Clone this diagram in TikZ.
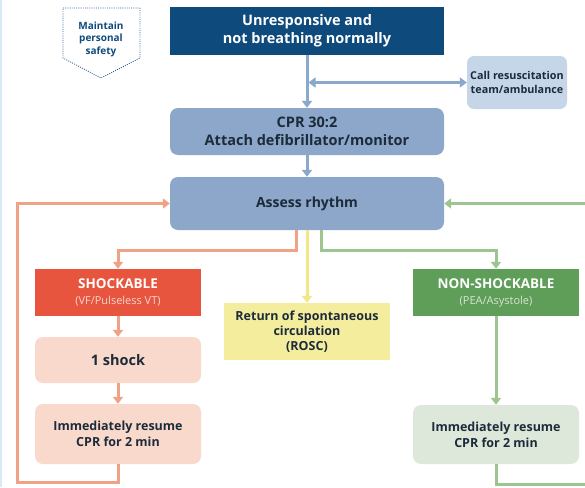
\documentclass[tikz,border=0pt]{standalone}
\usepackage{fontspec}
\setmainfont{Open Sans}
\usetikzlibrary{arrows.meta}
\definecolor{navy}{HTML}{0E4A7C}
\definecolor{steel}{HTML}{8AA8CB}
\definecolor{boxblue}{HTML}{8CA7C9}
\definecolor{callblue}{HTML}{C5D6E8}
\definecolor{orangeline}{HTML}{F0A287}
\definecolor{shockred}{HTML}{E8553F}
\definecolor{salmon}{HTML}{F9D9CB}
\definecolor{yellowline}{HTML}{F2E685}
\definecolor{roscfill}{HTML}{F4ED9E}
\definecolor{greenline}{HTML}{9CC58F}
\definecolor{nsgreen}{HTML}{5E9E58}
\definecolor{palegreen}{HTML}{DEE8DA}
\definecolor{darktext}{HTML}{1C2B3A}
\definecolor{safetyblue}{HTML}{2D5B8A}
\definecolor{edgeblue}{HTML}{D8EAF6}
\tikzset{
  boxbase/.style={inner sep=0pt, align=center, font=\bfseries, text=darktext},
  conn/.style={line width=3pt, -{Triangle[width=10pt,length=7pt]}},
  plain/.style={line width=3pt},
}
\begin{document}
\begin{tikzpicture}[x=1pt,y=-1pt]
\clip (0,0) rectangle (585,487);
\fill[white] (0,0) rectangle (585,487);
\draw[edgeblue, line width=2pt] (1,0) -- (1,487);

% safety sign
\draw[safetyblue, line width=0.9pt, dash pattern=on 0.9pt off 1.3pt] (63,8) -- (140,8) -- (140,58) -- (101,78) -- (63,58) -- cycle;
\node[boxbase, text=navy, font=\bfseries\fontsize{10}{12.5}\selectfont] (safety) at (101,39) {Maintain\\personal\\safety};

% nodes
\node[boxbase, fill=navy, text=white, minimum width=274pt, minimum height=48pt,
      font=\bfseries\fontsize{14.5}{18}\selectfont] (top) at (307,31) {Unresponsive and\\not breathing normally};
\node[boxbase, fill=callblue, rounded corners=7pt, minimum width=100pt, minimum height=53pt,
      font=\bfseries\fontsize{10.8}{14}\selectfont] (call) at (517,82.5) {Call resuscitation\\team/ambulance};
\node[boxbase, fill=boxblue, rounded corners=8pt, minimum width=274pt, minimum height=47pt,
      font=\bfseries\fontsize{14.5}{18}\selectfont] (cpr) at (307,131.5) {CPR 30:2\\Attach defibrillator/monitor};
\node[boxbase, fill=boxblue, rounded corners=8pt, minimum width=274pt, minimum height=53pt,
      font=\bfseries\fontsize{14}{17}\selectfont] (assess) at (307,203.5) {Assess rhythm};
\node[boxbase, fill=shockred, text=white, minimum width=166pt, minimum height=47pt,
      font=\bfseries\fontsize{13.5}{17}\selectfont] (shock) at (118,292.5) {SHOCKABLE\\[-1pt]{\mdseries\fontsize{11}{13}\selectfont\color{white!75!shockred}(VF/Pulseless VT)}};
\node[boxbase, fill=salmon, rounded corners=8pt, minimum width=166pt, minimum height=46pt,
      font=\bfseries\fontsize{14.5}{17}\selectfont] (oneshock) at (118,360) {1 shock};
\node[boxbase, fill=salmon, rounded corners=8pt, minimum width=166pt, minimum height=60pt,
      font=\bfseries\fontsize{12.5}{16}\selectfont] (resumeL) at (118,434) {Immediately resume\\CPR for 2 min};
\node[boxbase, fill=roscfill, minimum width=166pt, minimum height=57pt,
      font=\bfseries\fontsize{12.5}{15}\selectfont] (rosc) at (307,331.5) {Return of spontaneous\\circulation\\(ROSC)};
\node[boxbase, fill=nsgreen, text=white, minimum width=166pt, minimum height=47pt,
      font=\bfseries\fontsize{13.5}{17}\selectfont] (nonshock) at (496,292.5) {NON-SHOCKABLE\\[-1pt]{\mdseries\fontsize{11}{13}\selectfont\color{white!75!nsgreen}(PEA/Asystole)}};
\node[boxbase, fill=palegreen, rounded corners=8pt, minimum width=166pt, minimum height=59pt,
      font=\bfseries\fontsize{12.5}{16}\selectfont] (resumeR) at (496,434.5) {Immediately resume\\CPR for 2 min};

% loop corner coordinates
\coordinate (lc) at (17,482);
\coordinate (rc) at (592,484);
\coordinate (rc2) at (592,203.5);

% blue connectors
\draw[conn, steel] (top.south) -- (cpr.north);
\draw[steel, line width=3pt, {Triangle[width=10pt,length=7pt]}-{Triangle[width=10pt,length=7pt]}]
  ([xshift=1.5pt]top.south |- call.west) -- (call.west);
\draw[conn, steel] (cpr.south) -- (assess.north);

% branches
\draw[conn, orangeline] ([xshift=-11pt]assess.south) -- ++(0,20) -| (shock.north);
\draw[conn, yellowline] (assess.south) -- (rosc.north);
\draw[conn, greenline] ([xshift=14pt]assess.south) -- ++(0,20) -| (nonshock.north);

% shockable column
\draw[conn, orangeline] (shock.south) -- (oneshock.north);
\draw[conn, orangeline] (oneshock.south) -- (resumeL.north);
\draw[conn, orangeline] (resumeL.south) |- (lc) |- (assess.west);

% non-shockable column
\draw[conn, greenline] (nonshock.south) -- (resumeR.north);
\draw[plain, greenline] (resumeR.south) |- (rc) -- (rc2);
\draw[conn, greenline] (rc2) -- (assess.east);
\end{tikzpicture}
\end{document}
